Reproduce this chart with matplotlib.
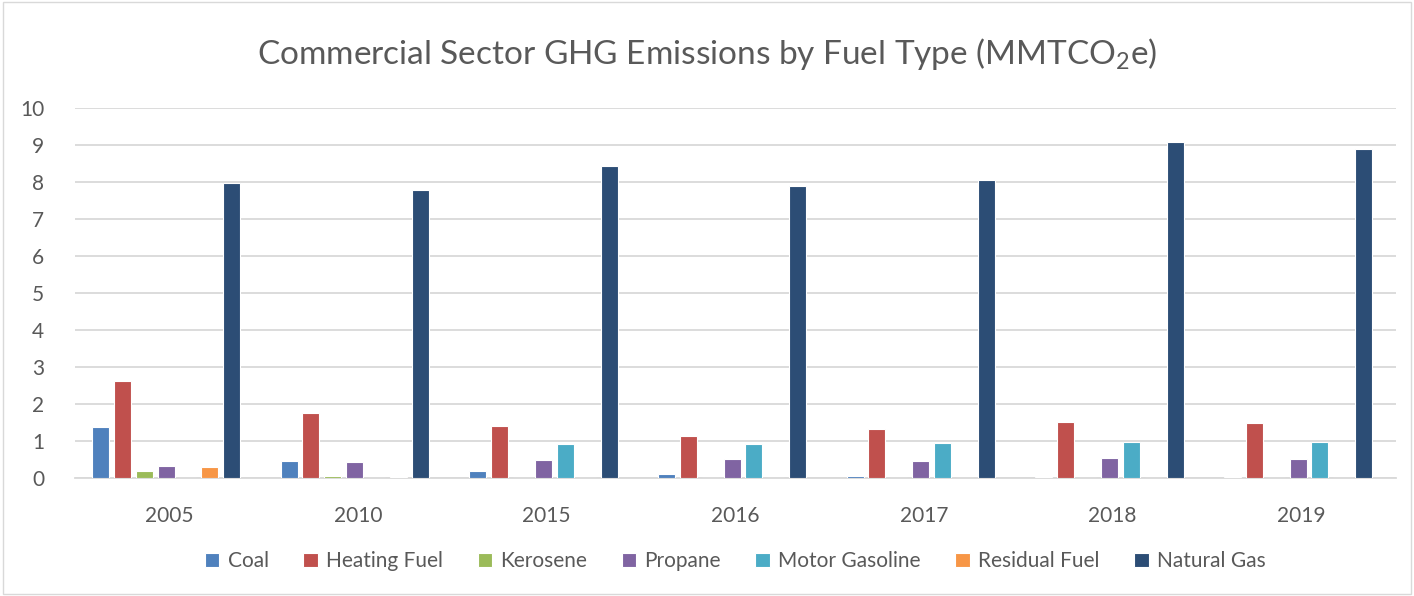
import numpy as np
import matplotlib.pyplot as plt

plt.rcParams['font.family'] = ['Lato', 'DejaVu Sans']
plt.rcParams['mathtext.default'] = 'regular'

years = ['2005', '2010', '2015', '2016', '2017', '2018', '2019']
fuels = ['Coal', 'Heating Fuel', 'Kerosene', 'Propane', 'Motor Gasoline', 'Residual Fuel', 'Natural Gas']

coal = [1.38, 0.45, 0.19, 0.10, 0.05, 0.02, 0.02]
heating_fuel = [2.63, 1.75, 1.40, 1.13, 1.33, 1.51, 1.48]
kerosene = [0.19, 0.05, 0.0, 0.0, 0.0, 0.0, 0.0]
propane = [0.33, 0.43, 0.49, 0.52, 0.46, 0.54, 0.51]
motor_gasoline = [0.01, 0.01, 0.92, 0.93, 0.94, 0.96, 0.97]
residual_fuel = [0.29, 0.03, 0.0, 0.0, 0.0, 0.0, 0.0]
natural_gas = [7.97, 7.78, 8.43, 7.88, 8.05, 9.08, 8.89]

series = [coal, heating_fuel, kerosene, propane, motor_gasoline, residual_fuel, natural_gas]
colors = ['#4F81BD', '#C0504D', '#9BBB59', '#8064A2', '#4BACC6', '#F79646', '#2C4D75']

fig = plt.figure(figsize=(14.14, 5.96), dpi=100)
ax = fig.add_axes([0.053, 0.198, 0.934, 0.621])

x = np.arange(len(years))
step = 0.116
width = 0.09
for i, (vals, name) in enumerate(zip(series, fuels)):
    ax.bar(x + (i - 3) * step - 0.017, vals, width, color=colors[i], label=name,
           edgecolor='white', linewidth=0.8, zorder=3)

ax.set_ylim(0, 10)
ax.set_yticks(range(0, 11))
ax.set_xlim(-0.5, len(years) - 0.5)
ax.set_xticks(x)
ax.set_xticklabels(years)
ax.grid(axis='y', color='#D9D9D9', linewidth=1.3, zorder=0)
for s in ['top', 'right', 'left']:
    ax.spines[s].set_visible(False)
ax.spines['bottom'].set_color('#D9D9D9')
ax.spines['bottom'].set_linewidth(1.3)
ax.tick_params(length=0, labelsize=15, labelcolor='#595959')
ax.tick_params(axis='x', pad=20)
ax.tick_params(axis='y', pad=22)

fig.suptitle('Commercial Sector GHG Emissions by Fuel Type (MMTCO$_2$e)', y=0.94,
             fontsize=24, color='#595959')

ax.legend(loc='center', bbox_to_anchor=(0.5, -0.225), ncol=7, frameon=False,
          fontsize=15, labelcolor='#595959', handlelength=0.7, handleheight=0.7,
          handletextpad=0.4, columnspacing=1.65)

fig.add_artist(plt.Rectangle((0.002, 0.003), 0.996, 0.994, transform=fig.transFigure,
                             fill=False, edgecolor='#D9D9D9', linewidth=1))

fig.savefig('out.png', dpi=100)
